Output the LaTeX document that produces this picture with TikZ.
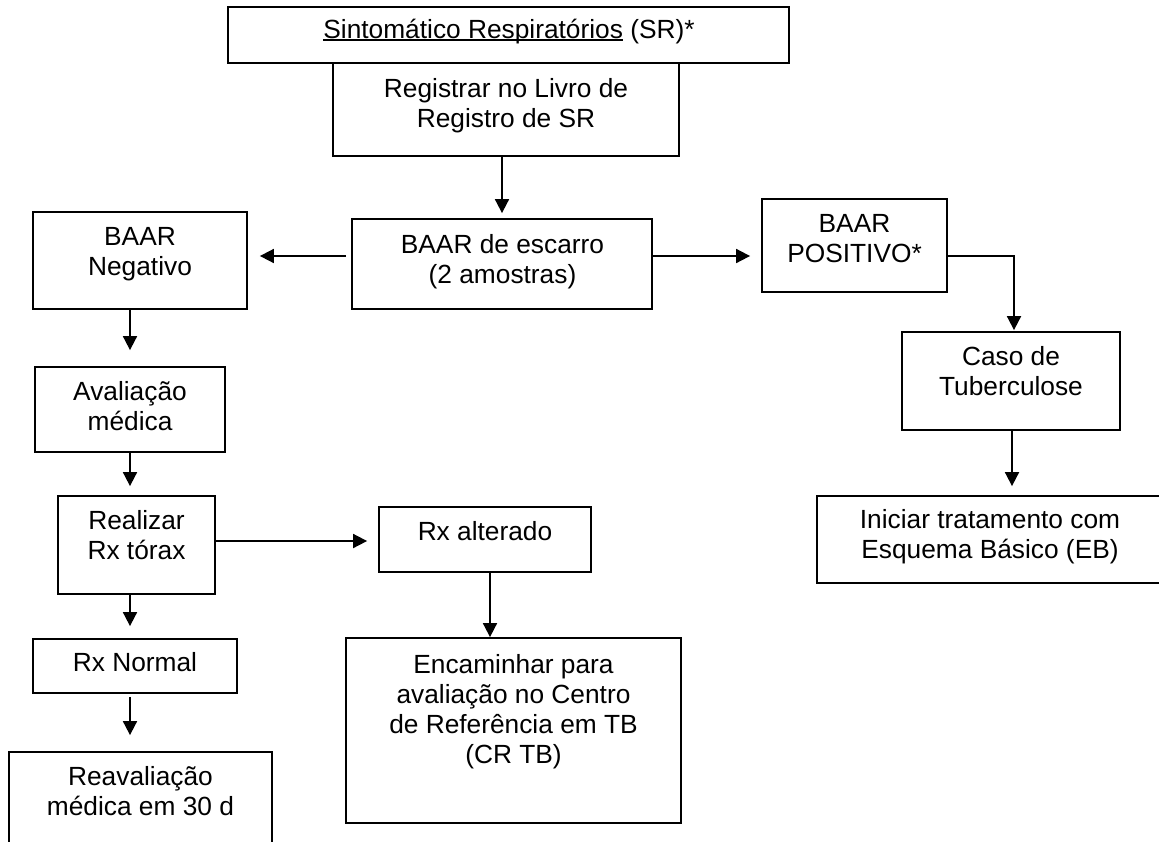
\documentclass[tikz,border=0pt]{standalone}
\usepackage{fontspec}
\setmainfont{Liberation Sans}
\usetikzlibrary{arrows.meta}
\newcommand\tp{\rule{0pt}{26pt}}
\newcommand\ulx[1]{\setbox0\hbox{#1}\rlap{\rule[-2.6pt]{\wd0}{1.7pt}}\box0\relax}
\begin{document}
\begin{tikzpicture}[x=1pt,y=-1pt,
  box/.style={draw, line width=1.8pt, rectangle, inner sep=0pt},
  txt/.style={inner sep=0pt, align=center, anchor=north, font=\fontsize{26.3}{30}\selectfont},
  txtone/.style={inner sep=0pt, anchor=base, font=\fontsize{26.3}{30}\selectfont},
  arr/.style={line width=1.8pt, -{Triangle[length=14pt,width=14pt]}}]
\useasboundingbox (0,0) rectangle (1159,841);
\clip (0,0) rectangle (1159,841);
\fill[white] (0,0) rectangle (1159,841);

% boxes
\node[box, minimum width=561pt, minimum height=56pt] (sr) at (508.5,35) {};
\node[box, minimum width=346pt, minimum height=93pt] (reg) at (506,109.5) {};
\node[box, minimum width=300pt, minimum height=90pt] (esc) at (502,264) {};
\node[box, minimum width=214pt, minimum height=97pt] (neg) at (140,260.5) {};
\node[box, minimum width=185pt, minimum height=93pt] (pos) at (854.5,245.5) {};
\node[box, minimum width=218pt, minimum height=98pt] (caso) at (1011,381) {};
\node[box, minimum width=383pt, minimum height=87pt] (ini) at (1008.5,539.5) {};
\node[box, minimum width=190pt, minimum height=85pt] (aval) at (130,409.5) {};
\node[box, minimum width=157pt, minimum height=98pt] (real) at (136.5,545) {};
\node[box, minimum width=212pt, minimum height=65pt] (alt) at (485,539.5) {};
\node[box, minimum width=204pt, minimum height=54pt] (norm) at (135,666) {};
\node[box, minimum width=263pt, minimum height=148pt] (reav) at (140.5,826) {};
\node[box, minimum width=335pt, minimum height=185pt] (enc) at (513.5,730.5) {};

% texts
\node[txtone] (tsr) at (509,38) {\ulx{Sintomático Respiratórios} (SR)*};
\node[txt] (treg) at (506,71) {\tp Registrar no Livro de\\Registro de SR};
\node[txt] (tesc) at (502.5,227) {\tp BAAR de escarro\\(2 amostras)};
\node[txt] (tneg) at (140,219) {\tp BAAR\\Negativo};
\node[txt] (tpos) at (854.5,206) {\tp BAAR\\POSITIVO*};
\node[txt] (tcaso) at (1011,339) {\tp Caso de\\Tuberculose};
\node[txt] (tini) at (990,502) {\tp Iniciar tratamento com\\Esquema Básico (EB)};
\node[txt] (taval) at (130,374) {\tp Avaliação\\médica};
\node[txt] (treal) at (136.5,503) {\tp Realizar\\Rx tórax};
\node[txtone] (talt) at (485,540) {Rx alterado};
\node[txtone] (tnorm) at (135,671) {Rx Normal};
\node[txt] (treav) at (140.5,759) {\tp Reavaliação\\médica em 30 d};
\node[txt] (tenc) at (513.5,647) {\tp Encaminhar para\\avaliação no Centro\\de Referência em TB\\(CR TB)};

% helper coordinates
\coordinate (rowa) at (0,256);
\coordinate (rowb) at (0,541);
\coordinate (cola) at (130,0);
\coordinate (colb) at (1014,0);
\coordinate (colc) at (1012,0);
\coordinate (cold) at (490,0);

% connectors
\draw[arr, shorten >=5pt] (reg.south -| esc.north) -- (esc.north);
\draw[arr, shorten <=5pt, shorten >=12pt] (esc.west |- rowa) -- (neg.east |- rowa);
\draw[arr, shorten >=11pt] (esc.east |- rowa) -- (pos.west |- rowa);
\draw[arr, shorten >=1pt] (pos.east |- rowa) -| (colb |- caso.north);
\draw[arr, shorten >=9pt] (colc |- caso.south) -- (colc |- ini.north);
\draw[arr, shorten >=16pt] (cola |- neg.south) -- (cola |- aval.north);
\draw[arr, shorten >=9pt] (cola |- aval.south) -- (cola |- real.north);
\draw[arr, shorten >=11pt] (real.east |- rowb) -- (alt.west |- rowb);
\draw[arr, shorten >=12pt] (cola |- real.south) -- (cola |- norm.north);
\draw[arr, shorten <=3pt, shorten >=16pt] (cola |- norm.south) -- (cola |- reav.north);
\draw[arr] (cold |- alt.south) -- (cold |- enc.north);
\end{tikzpicture}
\end{document}
